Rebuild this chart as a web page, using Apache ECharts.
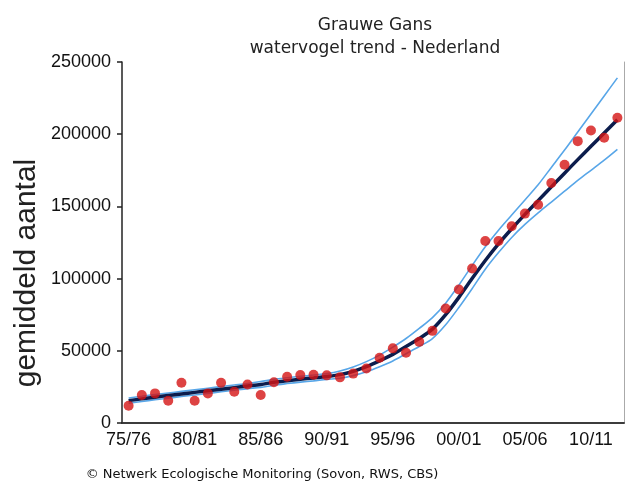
<!DOCTYPE html>
<html>
<head>
<meta charset="utf-8">
<script src="https://cdn.jsdelivr.net/npm/echarts@6.0.0/dist/echarts.min.js"></script>
<style>
  html, body { margin: 0; padding: 0; background: #fff; }
  #chart { width: 627px; height: 495px; }
</style>
</head>
<body>
<div id="chart"></div>
<script>
// seizoenen 75/76 t/m 12/13
const seasons = ['75/76','76/77','77/78','78/79','79/80','80/81','81/82','82/83','83/84','84/85',
  '85/86','86/87','87/88','88/89','89/90','90/91','91/92','92/93','93/94','94/95',
  '95/96','96/97','97/98','98/99','99/00','00/01','01/02','02/03','03/04','04/05',
  '05/06','06/07','07/08','08/09','09/10','10/11','11/12','12/13']

// gemiddeld aantal per seizoen (rode punten)
const counts = [12000,19400,20500,15400,27900,15400,20500,27900,21600,26700,
  19400,28200,32000,33200,33400,33000,31600,34200,37800,45200,
  51700,48600,56200,63800,79300,92500,107000,126100,126100,136200,
  145000,151200,166200,178900,195200,202600,197600,211400]

// trendlijn
const trend = [15500,16700,17900,19000,20100,21200,22300,23400,24500,25600,
  26700,28200,29300,30300,31200,32200,33500,35800,39000,43000,
  47500,53000,58500,65000,75000,87000,100000,112500,124000,134500,
  144500,154000,163500,173000,182400,191600,200800,210000]

// betrouwbaarheidsband boven / onder
const upper = [17300,18500,19700,20800,21900,23000,24100,25200,26300,27400,
  28700,30200,31300,32300,33200,34200,36000,38800,42500,47000,
  52500,58500,65500,73000,83000,95500,109000,122000,133500,144000,
  154500,165000,177000,189000,201500,214000,226500,239000]
const lower = [13700,14900,16100,17200,18300,19400,20500,21600,22700,23800,
  24700,26200,27300,28300,29200,30200,31000,32800,35500,39000,
  43000,48000,53000,58500,68000,80000,93000,106500,118000,128500,
  137500,145500,153000,160500,168000,175000,182000,189500]

const yTicks = [0, 50000, 100000, 150000, 200000, 250000]

const labelFont = 'Liberation Sans, Arial, sans-serif'
const titleFont = 'DejaVu Sans, Verdana, sans-serif'

let chart = echarts.init(document.getElementById('chart'))
chart.setOption({
  backgroundColor: '#fff',
  animation: false,
  title: [
    {
      text: 'Grauwe Gans',
      left: 370, top: 12, textAlign: 'center',
      textStyle: { fontFamily: titleFont, fontSize: 17, fontWeight: 'normal', color: '#222' },
    },
    {
      text: 'watervogel trend - Nederland',
      left: 370, top: 35, textAlign: 'center',
      textStyle: { fontFamily: titleFont, fontSize: 17, fontWeight: 'normal', color: '#222' },
    },
    {
      text: '© Netwerk Ecologische Monitoring (Sovon, RWS, CBS)',
      left: 257, top: 463, textAlign: 'center',
      textStyle: { fontFamily: titleFont, fontSize: 13, fontWeight: 'normal', color: '#111' },
    },
  ],
  graphic: [{
    type: 'text',
    x: 27, y: 273,
    rotation: Math.PI / 2,
    style: {
      text: 'gemiddeld aantal',
      font: '30px ' + labelFont,
      fill: '#222',
      textAlign: 'center',
      textVerticalAlign: 'middle',
    },
  }],
  grid: { left: 122, right: 3, top: 62, bottom: 72 },
  xAxis: [
    {
      type: 'category',
      data: seasons,
      boundaryGap: true,
      axisLine: { lineStyle: { color: '#222', width: 1.5 } },
      axisTick: { alignWithLabel: true, interval: 4, length: 6, lineStyle: { color: '#222', width: 1.5 } },
      axisLabel: { interval: 4, margin: 8, fontFamily: labelFont, fontSize: 18, color: '#111' },
      splitLine: { show: false },
    },
    {
      // bovenrand van het kader
      type: 'category',
      data: seasons,
      position: 'top',
      axisLine: { lineStyle: { color: '#333', width: 1.5 } },
      axisTick: { show: false },
      axisLabel: { show: false },
    },
  ],
  yAxis: [
    {
      type: 'value',
      min: 0, max: 250000, interval: 50000,
      axisLine: { show: true, lineStyle: { color: '#222', width: 1.5 } },
      axisTick: { show: true, length: 5, lineStyle: { color: '#222', width: 1.5 } },
      axisLabel: {
        margin: 11, fontFamily: labelFont, fontSize: 18, color: '#111',
        formatter: v => yTicks.includes(v) ? String(v) : '',
      },
      splitLine: { show: false },
    },
    {
      // rechterrand
      type: 'value',
      position: 'right',
      min: 0, max: 250000,
      axisLine: { show: true, lineStyle: { color: '#aaa', width: 1 } },
      axisTick: { show: false },
      axisLabel: { show: false },
      splitLine: { show: false },
    },
  ],
  series: [
    {
      name: 'boven',
      type: 'line',
      data: upper,
      smooth: 0.3,
      symbol: 'none',
      lineStyle: { color: '#58a6e8', width: 1.6 },
      z: 2,
    },
    {
      name: 'onder',
      type: 'line',
      data: lower,
      smooth: 0.3,
      symbol: 'none',
      lineStyle: { color: '#58a6e8', width: 1.6 },
      z: 2,
    },
    {
      name: 'trend',
      type: 'line',
      data: trend,
      smooth: 0.3,
      symbol: 'none',
      lineStyle: { color: '#0c1d4d', width: 3.5 },
      z: 3,
    },
    {
      name: 'aantal',
      type: 'scatter',
      data: counts,
      symbolSize: 10,
      itemStyle: { color: '#d41414' },
      z: 4,
    },
  ],
})
</script>
</body>
</html>
